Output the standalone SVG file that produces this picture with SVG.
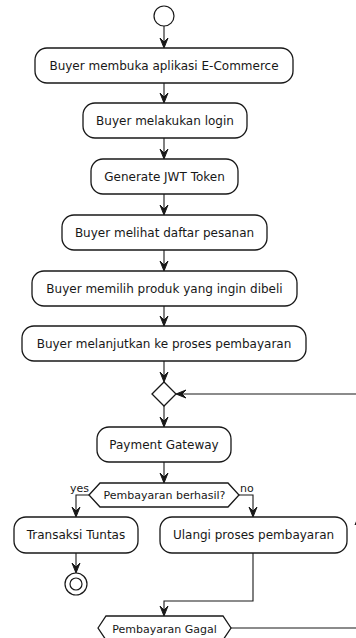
<svg xmlns="http://www.w3.org/2000/svg" width="356" height="638" viewBox="0 0 356 638">
  <style>
    .box { fill: #ffffff; stroke: #181818; stroke-width: 1.3; }
    .lbl { font-family: "DejaVu Sans", "Liberation Sans", sans-serif; font-size: 12px; fill: #181818; text-anchor: middle; }
    .small { font-family: "DejaVu Sans", "Liberation Sans", sans-serif; font-size: 11px; fill: #181818; }
    .edge { fill: none; stroke: #181818; stroke-width: 1.1; }
    .head { fill: #181818; stroke: #181818; stroke-width: 1; }
  </style>
  <defs>
    <!-- downward arrowhead, tip at origin -->
    <polygon id="down" class="head" points="-4,-10 0,0 4,-10 0,-6"/>
    <!-- leftward arrowhead, tip at origin -->
    <polygon id="left" class="head" points="10,-4 0,0 10,4 6,0"/>
  </defs>

  <rect width="356" height="638" fill="#ffffff"/>

  <g id="connectors">
    <line class="edge" x1="164" y1="26" x2="164" y2="47"/>
    <use href="#down" x="164" y="48"/>
    <line class="edge" x1="164" y1="83" x2="164" y2="102"/>
    <use href="#down" x="164" y="103"/>
    <line class="edge" x1="164" y1="138" x2="164" y2="158"/>
    <use href="#down" x="164" y="159"/>
    <line class="edge" x1="164" y1="194" x2="164" y2="214"/>
    <use href="#down" x="164" y="215"/>
    <line class="edge" x1="164" y1="250" x2="164" y2="270"/>
    <use href="#down" x="164" y="271"/>
    <line class="edge" x1="164" y1="306" x2="164" y2="325"/>
    <use href="#down" x="164" y="326"/>
    <line class="edge" x1="164" y1="361" x2="164" y2="381"/>
    <use href="#down" x="164" y="382"/>
    <line class="edge" x1="164" y1="406" x2="164" y2="426"/>
    <use href="#down" x="164" y="427"/>
    <line class="edge" x1="164" y1="462" x2="164" y2="482"/>
    <use href="#down" x="164" y="483"/>
    <!-- yes branch -->
    <polyline class="edge" points="89,495 76,495 76,516"/>
    <use href="#down" x="76" y="517"/>
    <!-- no branch -->
    <polyline class="edge" points="239,495 253,495 253,516"/>
    <use href="#down" x="253" y="517"/>
    <!-- to final node -->
    <line class="edge" x1="76" y1="553" x2="76" y2="572"/>
    <use href="#down" x="76" y="573"/>
    <!-- retry path -->
    <polyline class="edge" points="253,553 253,601 164,601 164,615"/>
    <use href="#down" x="164" y="616"/>
    <!-- loop back to merge -->
    <polyline class="edge" points="231,628 359,628 359,394 177,394"/>
    <use href="#left" x="176" y="394"/>
    <polygon class="head" points="355,525 359,515 363,525 359,521"/>
  </g>

  <g id="start">
    <circle cx="164" cy="16" r="10" fill="#ffffff" stroke="#181818" stroke-width="1.2"/>
  </g>

  <g id="open-app">
    <rect class="box" x="35" y="48" width="258" height="35" rx="12"/>
    <text class="lbl" x="164" y="70">Buyer membuka aplikasi E-Commerce</text>
  </g>
  <g id="login">
    <rect class="box" x="83" y="103" width="164" height="35" rx="12"/>
    <text class="lbl" x="165" y="125">Buyer melakukan login</text>
  </g>
  <g id="jwt">
    <rect class="box" x="91" y="159" width="147" height="35" rx="12"/>
    <text class="lbl" x="164.5" y="181">Generate JWT Token</text>
  </g>
  <g id="orders">
    <rect class="box" x="62" y="215" width="205" height="35" rx="12"/>
    <text class="lbl" x="164.5" y="237">Buyer melihat daftar pesanan</text>
  </g>
  <g id="choose">
    <rect class="box" x="32" y="271" width="265" height="35" rx="12"/>
    <text class="lbl" x="164.5" y="293">Buyer memilih produk yang ingin dibeli</text>
  </g>
  <g id="checkout">
    <rect class="box" x="22" y="326" width="284" height="35" rx="12"/>
    <text class="lbl" x="164" y="348">Buyer melanjutkan ke proses pembayaran</text>
  </g>

  <g id="merge">
    <polygon class="box" points="152,394 164,382 176,394 164,406"/>
  </g>

  <g id="gateway">
    <rect class="box" x="97" y="427" width="134" height="35" rx="12"/>
    <text class="lbl" x="164" y="449">Payment Gateway</text>
  </g>

  <g id="decision">
    <polygon class="box" points="89,495 100,483 228,483 239,495 228,507 100,507"/>
    <text class="small" x="164.5" y="499" text-anchor="middle">Pembayaran berhasil?</text>
    <text class="small" x="70" y="492">yes</text>
    <text class="small" x="240" y="492">no</text>
  </g>

  <g id="done">
    <rect class="box" x="14" y="517" width="124" height="36" rx="12"/>
    <text class="lbl" x="76" y="539">Transaksi Tuntas</text>
  </g>
  <g id="retry">
    <rect class="box" x="160" y="517" width="187" height="36" rx="12"/>
    <text class="lbl" x="253.5" y="539">Ulangi proses pembayaran</text>
  </g>

  <g id="end">
    <circle cx="76" cy="584" r="11" fill="#ffffff" stroke="#181818" stroke-width="1.2"/>
    <circle cx="76" cy="584" r="6" fill="#ffffff" stroke="#181818" stroke-width="1.2"/>
  </g>

  <g id="failed">
    <polygon class="box" points="98,628 106,616 223,616 231,628 223,640 106,640"/>
    <text class="small" x="164.5" y="633" text-anchor="middle">Pembayaran Gagal</text>
  </g>
</svg>
